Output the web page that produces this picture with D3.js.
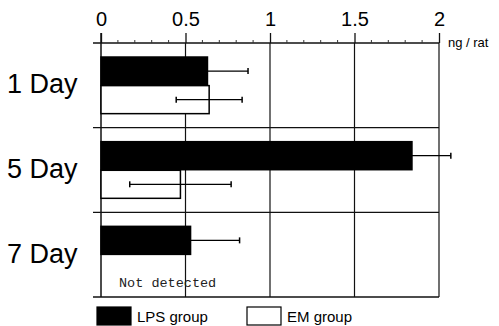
<!DOCTYPE html>
<html>
<head>
<meta charset="utf-8">
<script src="https://cdn.jsdelivr.net/npm/d3@7"></script>
<style>
  body { margin: 0; background: #fff; }
  svg { display: block; font-family: "Liberation Sans", Arial, sans-serif; }
</style>
</head>
<body>
<svg width="499" height="326"></svg>
<script>
const days = ["1 Day", "5 Day", "7 Day"];
const groups = ["LPS group", "EM group"];
const lpsMean = [0.63, 1.84, 0.53];
const lpsErr = [0.24, 0.23, 0.29];
const emMean = [0.64, 0.47, null];
const emErr = [0.195, 0.30, null];
const xTicks = [0, 0.5, 1, 1.5, 2];

const svg = d3.select("svg");

const plotLeft = 101, plotRight = 439, plotTop = 43, plotBottom = 297;

const x = d3.scaleLinear().domain([0, 2]).range([plotLeft, plotRight]);
const y = d3.scaleBand().domain(days).range([plotTop, plotBottom]);
const yInner = d3.scaleBand().domain(groups)
  .range([0, y.bandwidth()])
  .paddingInner(0.02)
  .paddingOuter(0.49);

// gridlines
svg.append("g")
  .selectAll("line")
  .data(xTicks.slice(1))
  .enter()
  .append("line")
  .attr("x1", d => x(d)).attr("x2", d => x(d))
  .attr("y1", plotTop).attr("y2", plotBottom)
  .attr("stroke", "#111").attr("stroke-width", 1.2);

// row separators
svg.append("g")
  .selectAll("line")
  .data(days.slice(1).concat(["end"]))
  .enter()
  .append("line")
  .attr("x1", plotLeft - 8).attr("x2", plotRight)
  .attr("y1", d => d === "end" ? plotBottom : y(d))
  .attr("y2", d => d === "end" ? plotBottom : y(d))
  .attr("stroke", "#111").attr("stroke-width", 1.3);

// top axis
const xAxis = d3.axisTop(x)
  .tickValues(xTicks)
  .tickFormat(d => d)
  .tickSize(10)
  .tickPadding(7);

const axisG = svg.append("g")
  .attr("transform", `translate(0,${plotTop})`)
  .call(xAxis);
axisG.select(".domain").remove();
axisG.selectAll("text")
  .attr("font-family", "'Liberation Sans', Arial, sans-serif")
  .attr("font-size", 20)
  .attr("fill", "#000");
axisG.selectAll(".tick line").attr("stroke", "#111").attr("stroke-width", 1.3);

svg.append("line")
  .attr("x1", plotLeft - 8).attr("x2", plotRight)
  .attr("y1", plotTop).attr("y2", plotTop)
  .attr("stroke", "#111").attr("stroke-width", 1.3);

// minor ticks
svg.append("g")
  .selectAll("line")
  .data(d3.range(0.1, 2, 0.1).filter(v => Math.abs(v * 2 - Math.round(v * 2)) > 0.01))
  .enter()
  .append("line")
  .attr("x1", d => x(d)).attr("x2", d => x(d))
  .attr("y1", plotTop - 3).attr("y2", plotTop)
  .attr("stroke", "#333").attr("stroke-width", 1);

// left axis
svg.append("line")
  .attr("x1", plotLeft).attr("x2", plotLeft)
  .attr("y1", plotTop - 10).attr("y2", plotBottom)
  .attr("stroke", "#111").attr("stroke-width", 1.5);

svg.append("text")
  .attr("x", 448).attr("y", 47)
  .attr("font-size", 13)
  .text("ng / rat");

// day labels
svg.append("g")
  .selectAll("text")
  .data(days)
  .enter()
  .append("text")
  .attr("x", 7)
  .attr("y", d => y(d) + y.bandwidth() / 2 + 8)
  .attr("font-size", 27)
  .text(d => d);

// bars
const rows = days.map((d, i) => ({
  day: d,
  vals: [
    { g: groups[0], m: lpsMean[i], e: lpsErr[i] },
    { g: groups[1], m: emMean[i], e: emErr[i] }
  ]
}));

const rowG = svg.append("g")
  .selectAll("g")
  .data(rows)
  .enter()
  .append("g")
  .attr("transform", d => `translate(0,${y(d.day)})`);

const cell = rowG.selectAll("g")
  .data(d => d.vals.filter(v => v.m != null))
  .enter()
  .append("g");

cell.append("rect")
  .attr("x", x(0))
  .attr("y", d => yInner(d.g))
  .attr("width", d => x(d.m) - x(0))
  .attr("height", yInner.bandwidth())
  .attr("fill", d => d.g === groups[0] ? "#000" : "#fff")
  .attr("stroke", "#000")
  .attr("stroke-width", 1.5);

cell.append("line")
  .attr("x1", d => x(d.m - d.e)).attr("x2", d => x(d.m + d.e))
  .attr("y1", d => yInner(d.g) + yInner.bandwidth() / 2)
  .attr("y2", d => yInner(d.g) + yInner.bandwidth() / 2)
  .attr("stroke", "#000").attr("stroke-width", 1.3);

cell.each(function(d) {
  const cy = yInner(d.g) + yInner.bandwidth() / 2;
  [d.m - d.e, d.m + d.e].forEach(v => {
    d3.select(this).append("line")
      .attr("x1", x(v)).attr("x2", x(v))
      .attr("y1", cy - 3).attr("y2", cy + 3)
      .attr("stroke", "#000").attr("stroke-width", 1.5);
  });
});

// not detected note
svg.append("text")
  .attr("x", 119)
  .attr("y", 287)
  .attr("font-family", "'Liberation Mono', 'DejaVu Sans Mono', monospace")
  .attr("font-size", 13.5)
  .attr("fill", "#222")
  .text("Not detected");

// legend
const legend = svg.append("g");
const legendX = [97, 247];
groups.forEach((g, i) => {
  legend.append("rect")
    .attr("x", legendX[i]).attr("y", 307)
    .attr("width", 34).attr("height", 18)
    .attr("fill", i === 0 ? "#000" : "#fff")
    .attr("stroke", "#000").attr("stroke-width", 1.2);
  legend.append("text")
    .attr("x", legendX[i] + 40).attr("y", 322)
    .attr("font-size", 15)
    .text(g);
});
</script>
</body>
</html>
